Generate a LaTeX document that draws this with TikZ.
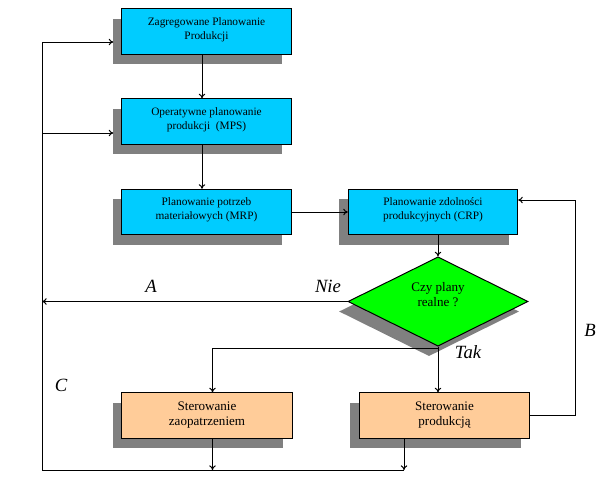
\documentclass[tikz,border=0pt]{standalone}
\usepackage{fontspec}
\setmainfont{Liberation Serif}
\usetikzlibrary{shapes.geometric,shadows,calc,arrows.meta}
\definecolor{boxcyan}{HTML}{00CCFF}
\definecolor{boxgreen}{HTML}{00FF00}
\definecolor{boxorange}{HTML}{FFCC99}
\definecolor{shadowgray}{HTML}{808080}
\tikzset{
  shad/.style={drop shadow={shadow xshift=-6.75pt, shadow yshift=-7.5pt, fill=shadowgray, draw=none, opacity=1}},
  topbox/.style={rectangle, draw=black, line width=0.75pt, fill=boxcyan, shad,
    minimum width=127pt, minimum height=34pt, align=center, inner sep=1pt,
    text depth=5pt,
    font=\fontsize{8.5}{10.5}\selectfont},
  botbox/.style={rectangle, draw=black, line width=0.75pt, fill=boxorange, shad,
    minimum width=128pt, minimum height=34pt, align=center, inner sep=1pt,
    font=\fontsize{9.8}{11.3}\selectfont},
  decis/.style={diamond, draw=black, line width=0.75pt, fill=boxgreen, shad,
    minimum width=135pt, minimum height=67pt, inner sep=0pt},
  conn/.style={line width=0.75pt, draw=black},
  arr/.style={conn, -{To[length=3.5pt,width=5pt]}},
  lbl/.style={font=\fontsize{14}{16}\selectfont\itshape}
}
\begin{document}
\begin{tikzpicture}[x=0.75pt,y=-0.75pt]
\useasboundingbox (0,0) rectangle (606,476);
% boxes
\node[topbox] (b1) at (206.5,31.5) {Zagregowane Planowanie\\Produkcji};
\node[topbox] (b2) at (206.5,121.5) {Operatywne planowanie\\produkcji\ \ (MPS)};
\node[topbox] (b3) at (206.5,212) {Planowanie potrzeb\\materiałowych (MRP)};
\node[topbox] (b4) at (433,212) {Planowanie zdolności\\produkcyjnych (CRP)};
\node[decis, label={[font=\fontsize{9.8}{11.3}\selectfont, align=center, yshift=5pt]center:Czy plany\\realne ?}] (d) at (438,301.5) {};
\node[botbox] (b5) at (207,415.5) {Sterowanie\\zaopatrzeniem};
\node[botbox] (b6) at (444.5,415.5) {Sterowanie\\produkcją};
% helper coordinates
\coordinate (T) at (42,42);
\coordinate (M) at (42,133);
\coordinate (L) at (42,470);
\coordinate (R) at (575,200);
\coordinate (s5) at ($(b5.north)+(5.5,0)$);
\coordinate (s5b) at ($(b5.south)+(5.5,0)$);
\coordinate (s6b) at ($(b6.south)+(-40.5,0)$);
\coordinate (s12) at ($(b1.south)+(-4.5,0)$);
\coordinate (s23) at ($(b2.south)+(-4.5,0)$);
% connectors
\draw[arr] (s12) -- (s12 |- b2.north);
\draw[arr] (s23) -- (s23 |- b3.north);
\draw[arr] (b3.east) -- (b4.west);
\draw[arr] (b4.south -| d.north) -- (d.north);
\draw[arr] (d.west) -- (d.west -| L);
\draw[arr] ($(d.south)+(0,2)$) -| (s5);
\draw[arr] (d.south) -- (d.south |- b6.north);
\draw[arr] (b6.east) -| (R) -- ($(b4.east)+(0,-12)$);
\draw[arr] (s5b) -- (s5b |- L);
\draw[arr] (s6b) -- (s6b |- L);
\draw[conn] (s6b |- L) -- (L) -- (T);
\draw[arr] (T) -- ($(b1.west |- T)+(-8,0)$);
\draw[arr] (M) -- ($(b2.west |- M)+(-8,0)$);
% labels
\node[lbl] (la) at (151,286) {A};
\node[lbl] (ln) at (328,286) {Nie};
\node[lbl] (lt) at (468,352) {Tak};
\node[lbl] (lb) at (590,330) {B};
\node[lbl] (lc) at (61,385) {C};
\end{tikzpicture}
\end{document}
